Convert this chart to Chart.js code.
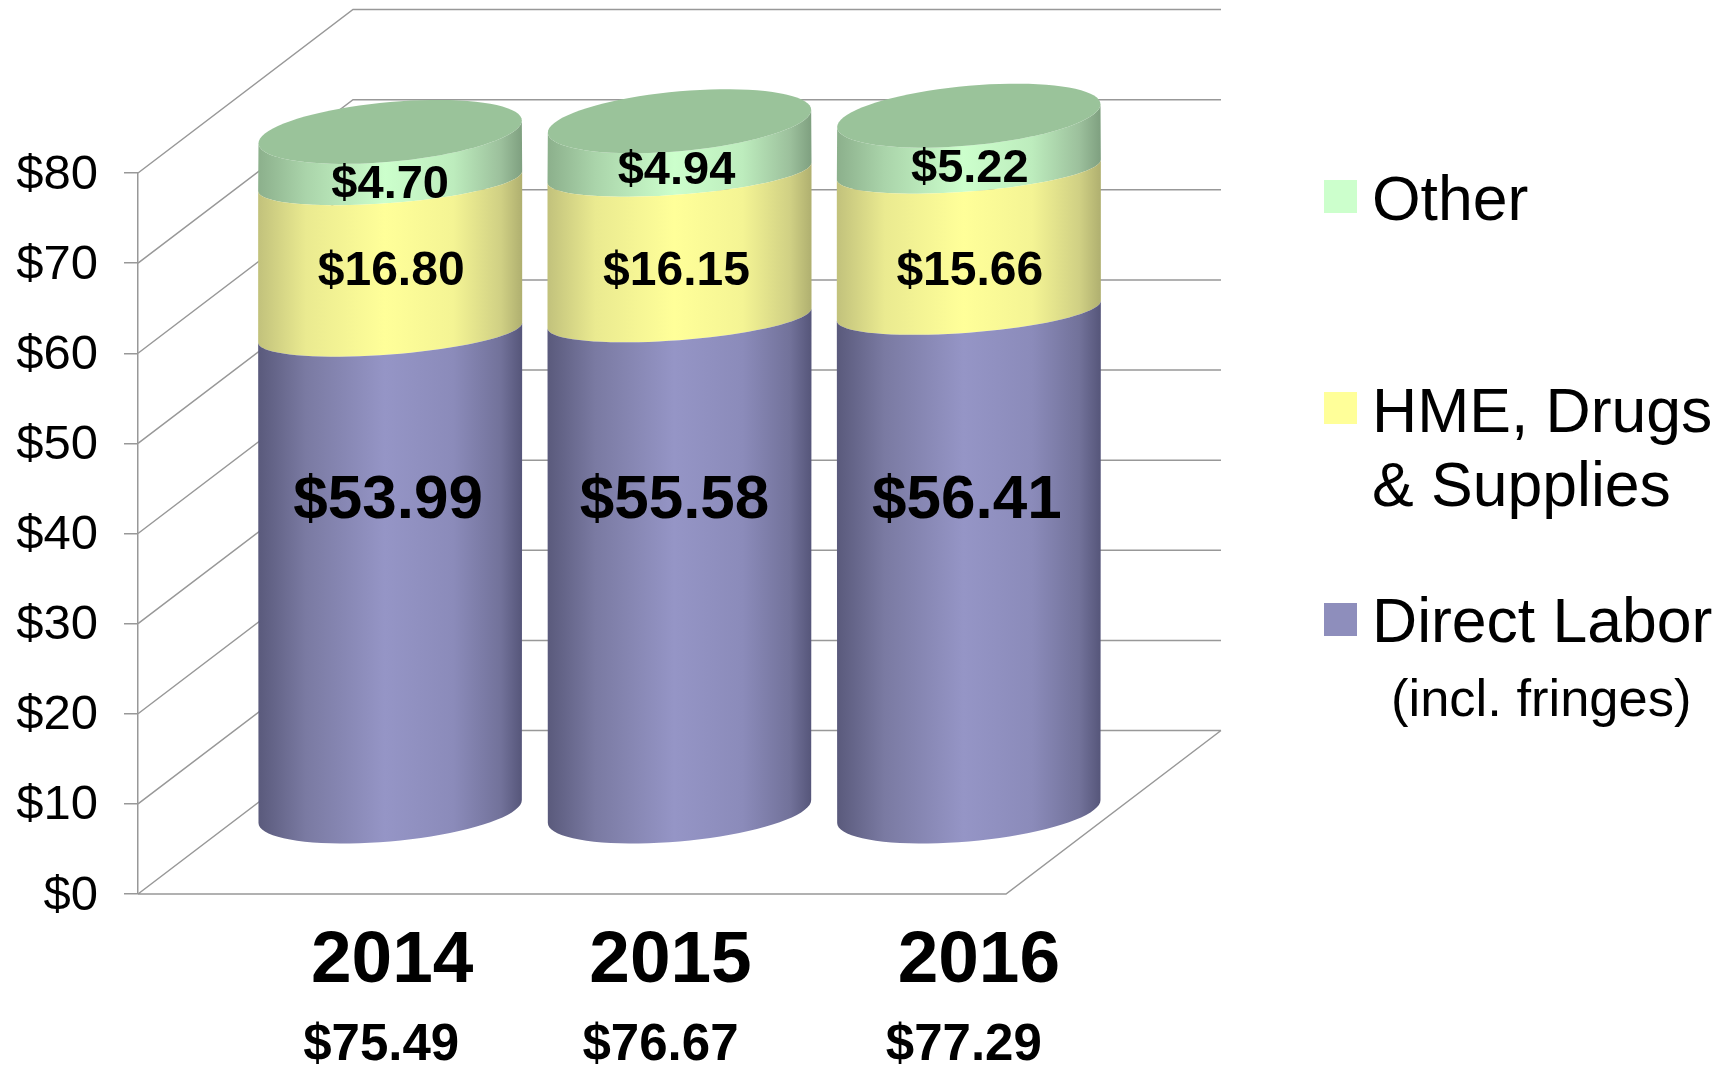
<!DOCTYPE html>
<html>
<head>
<meta charset="utf-8">
<title>Cost per visit</title>
<script src="https://cdn.jsdelivr.net/npm/chart.js@4"></script>
<style>
    html, body { margin: 0; padding: 0; background: #fff; }
    canvas { display: block; }
</style>
</head>
<body>
<canvas id="chart" width="1734" height="1065"></canvas>
<script>
const years = ['2014', '2015', '2016'];
const totals = ['$75.49', '$76.67', '$77.29'];
const directLabor = [53.99, 55.58, 56.41];
const hmeDrugs = [16.80, 16.15, 15.66];
const other = [4.70, 4.94, 5.22];
const seriesNames = ['Direct Labor', 'HME, Drugs & Supplies', 'Other'];
const yTicks = [0, 10, 20, 30, 40, 50, 60, 70, 80];

const FONT = '"Liberation Sans", Arial, sans-serif';
const GREY = '#989898';

// oblique depth of the box, the bars stand in the middle of it
const depthX = 215;
const depthY = 163.5;

// ellipse of a cylinder slice: outer ends, and the flatter seams between slices
const ell = { ux: 123, vx: 47, vy: 32, shift: 0 };
const seam = { ux: 120, vx: 55, vy: 24, shift: 7 };

const ramps = [
    ['#5a5a7c', '#7a7aa2', '#9595c6', '#8b8bba', '#72729a', '#56567a'],
    ['#c2c27c', '#eaea90', '#ffff99', '#f4f494', '#d0d084', '#b0b070'],
    ['#8cb08c', '#aad4aa', '#ccffcc', '#bdecbd', '#9cc09c', '#7fa080']
];
const rampStops = [0, 0.18, 0.48, 0.74, 0.92, 1];
const capColor = '#9ac39a';
const swatchColors = ['#8e8ebc', '#ffff99', '#ccffcc'];

function frontArc(cx, cy, e, reverse) {
    const t0 = Math.atan2(e.vx, e.ux);
    const pts = [];
    for (let i = 0; i <= 40; i++) {
        const t = t0 - Math.PI * i / 40;
        pts.push([cx + e.ux * Math.cos(t) + e.vx * Math.sin(t), cy + e.shift - e.vy * Math.sin(t)]);
    }
    return reverse ? pts.reverse() : pts;
}

function tracePath(ctx, pts) {
    ctx.beginPath();
    pts.forEach((p, i) => {
        if (i === 0) ctx.moveTo(p[0], p[1]);
        else ctx.lineTo(p[0], p[1]);
    });
    ctx.closePath();
}

const boxPlugin = {
    id: 'box',
    beforeDatasetsDraw(chart) {
        const { ctx, chartArea, scales } = chart;
        ctx.save();
        ctx.strokeStyle = GREY;
        ctx.lineWidth = 1.5;
        ctx.beginPath();
        yTicks.forEach(v => {
            const y = scales.y.getPixelForValue(v);
            ctx.moveTo(chartArea.left, y);
            ctx.lineTo(chartArea.left + depthX, y - depthY);
            ctx.lineTo(chartArea.right + depthX, y - depthY);
        });
        ctx.moveTo(chartArea.left, chartArea.bottom);
        ctx.lineTo(chartArea.right, chartArea.bottom);
        ctx.lineTo(chartArea.right + depthX, chartArea.bottom - depthY);
        ctx.stroke();
        ctx.restore();
    }
};

const cylinderPlugin = {
    id: 'cylinder',
    beforeDatasetDraw(chart, args) {
        const { ctx } = chart;
        const last = chart.data.datasets.length - 1;
        args.meta.data.forEach(bar => {
            const cx = bar.x + depthX / 2;
            const top = bar.y - depthY / 2;
            const bottom = bar.base - depthY / 2;
            const halfW = Math.hypot(ell.ux, ell.vx);
            const topShape = args.index === last ? ell : seam;
            const baseShape = args.index === 0 ? ell : seam;

            const grad = ctx.createLinearGradient(cx - halfW, 0, cx + halfW, 0);
            ramps[args.index].forEach((c, i) => grad.addColorStop(rampStops[i], c));

            tracePath(ctx, frontArc(cx, top, topShape, false).concat(frontArc(cx, bottom, baseShape, true)));
            ctx.fillStyle = grad;
            ctx.fill();

            if (args.index === last) {
                const arc = frontArc(cx, top, ell, false);
                tracePath(ctx, arc.concat(arc.map(p => [2 * cx - p[0], 2 * top - p[1]])));
                ctx.fillStyle = capColor;
                ctx.fill();
            }
        });
        return false;
    }
};

// label placement, the picture does not centre them on the slices
const labelRows = [
    { size: 62, y: 501, dx: [-2, -5, -2] },
    { size: 48, y: 272, dx: [1, -3, 1] },
    { size: 47, y: [185, 171, 169], dx: [0, -3, 1] }
];
const yearDx = [2, -9, 10];
const totalDx = [-9, -19, -5];

const textPlugin = {
    id: 'texts',
    afterDatasetsDraw(chart) {
        const { ctx } = chart;
        ctx.save();
        ctx.fillStyle = '#000';
        ctx.textAlign = 'center';
        ctx.textBaseline = 'middle';

        chart.data.datasets.forEach((ds, d) => {
            const row = labelRows[d];
            ctx.font = `bold ${row.size}px ${FONT}`;
            chart.getDatasetMeta(d).data.forEach((bar, i) => {
                const y = Array.isArray(row.y) ? row.y[i] : row.y;
                ctx.fillText('$' + ds.data[i].toFixed(2), bar.x + depthX / 2 + row.dx[i], y);
            });
        });

        const xs = chart.getDatasetMeta(0).data.map(bar => bar.x + depthX / 2);
        ctx.textBaseline = 'alphabetic';
        ctx.font = `bold 73px ${FONT}`;
        years.forEach((t, i) => ctx.fillText(t, xs[i] + yearDx[i], 982));
        ctx.font = `bold 51px ${FONT}`;
        totals.forEach((t, i) => ctx.fillText(t, xs[i] + totalDx[i], 1060));

        // legend, top entry is the last series
        ctx.textAlign = 'left';
        ctx.font = `62.5px ${FONT}`;
        ctx.fillStyle = swatchColors[2];
        ctx.fillRect(1324, 180, 33, 33);
        ctx.fillStyle = swatchColors[1];
        ctx.fillRect(1324, 392, 33, 32);
        ctx.fillStyle = swatchColors[0];
        ctx.fillRect(1324, 603, 33, 33);
        ctx.fillStyle = '#000';
        ctx.fillText(seriesNames[2], 1372, 220);
        ctx.fillText('HME, Drugs', 1372, 432);
        ctx.fillText('& Supplies', 1372, 506);
        ctx.fillText(seriesNames[0], 1372, 642);
        ctx.font = `52.5px ${FONT}`;
        ctx.fillText('(incl. fringes)', 1391, 716);
        ctx.restore();
    }
};

new Chart(document.getElementById('chart'), {
    type: 'bar',
    data: {
        labels: years,
        datasets: [
            { label: seriesNames[0], data: directLabor, backgroundColor: swatchColors[0] },
            { label: seriesNames[1], data: hmeDrugs, backgroundColor: swatchColors[1] },
            { label: seriesNames[2], data: other, backgroundColor: swatchColors[2] }
        ]
    },
    plugins: [boxPlugin, cylinderPlugin, textPlugin],
    options: {
        responsive: false,
        animation: false,
        layout: { padding: { top: 173, right: 728, left: 0, bottom: 0 } },
        plugins: { legend: { display: false }, tooltip: { enabled: false } },
        scales: {
            x: {
                stacked: true,
                grid: { display: false },
                border: { display: false },
                ticks: { display: false },
                afterFit: s => { s.height = 171; }
            },
            y: {
                stacked: true,
                min: 0,
                max: 80,
                ticks: {
                    stepSize: 10,
                    padding: 26,
                    labelOffset: 2,
                    color: '#000',
                    font: { family: FONT, size: 49 },
                    callback: v => '$' + v
                },
                grid: { drawOnChartArea: false, tickLength: 14, color: GREY, lineWidth: 1.5 },
                border: { color: GREY, width: 1.5 },
                afterFit: s => { s.width = 138; }
            }
        }
    }
});
</script>
</body>
</html>
